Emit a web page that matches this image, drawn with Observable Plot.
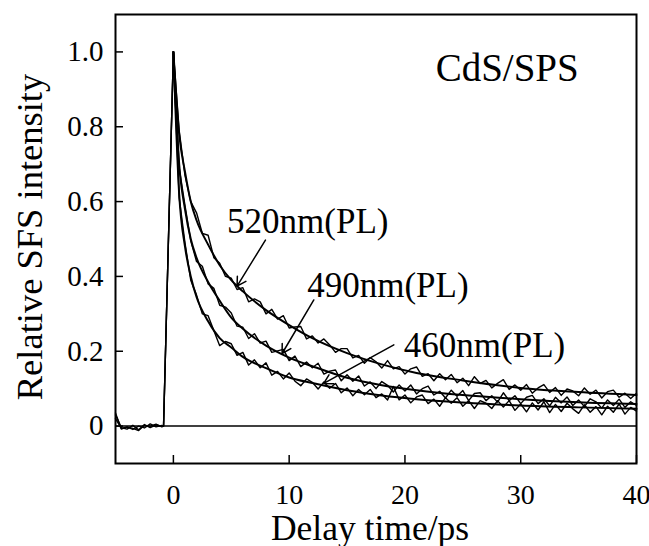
<!DOCTYPE html>
<html><head><meta charset="utf-8">
<script src="https://cdn.jsdelivr.net/npm/d3@7"></script>
<script src="https://cdn.jsdelivr.net/npm/@observablehq/plot@0.6"></script>
<style>html,body{margin:0;padding:0;background:#fff}</style>
</head><body><div id="chart"></div>
<script>
const seriesNames = ["520nm(PL)", "490nm(PL)", "460nm(PL)"];
const xTicks = [0, 10, 20, 30, 40];
const yTicks = [0, 0.2, 0.4, 0.6, 0.8, 1.0];
const yTickLabels = ["0", "0.2", "0.4", "0.6", "0.8", "1.0"];
const xTitle = "Delay time/ps";
const yTitle = "Relative SFS intensity";
const sampleTitle = "CdS/SPS";

// measured time axis (ps)
const time = [-5, -4.5, -4, -3.5, -3, -2.5, -2, -1.5, -1, -0.85,
  0, 0.5, 1, 1.5, 2, 2.5, 3, 3.5, 4, 4.5,
  5, 5.5, 6, 6.5, 7, 7.5, 8, 8.5, 9, 9.5,
  10, 10.5, 11, 11.5, 12, 12.5, 13, 13.5, 14, 14.5,
  15, 15.5, 16, 16.5, 17, 17.5, 18, 18.5, 19, 19.5,
  20, 20.5, 21, 21.5, 22, 22.5, 23, 23.5, 24, 24.5,
  25, 25.5, 26, 26.5, 27, 27.5, 28, 28.5, 29, 29.5,
  30, 30.5, 31, 31.5, 32, 32.5, 33, 33.5, 34, 34.5,
  35, 35.5, 36, 36.5, 37, 37.5, 38, 38.5, 39, 39.5, 40];

// measured (noisy) signals
const data520 = [0.03, -0.004, -0.008, 0.002, -0.01, 0.004, -0.004, 0.003, 0.0, 0.0,
  1.0, 0.79, 0.67, 0.60, 0.57, 0.515, 0.51, 0.45, 0.435, 0.40,
  0.395, 0.365, 0.37, 0.332, 0.34, 0.332, 0.30, 0.312, 0.286, 0.295,
  0.262, 0.265, 0.266, 0.233, 0.241, 0.222, 0.233, 0.217, 0.197, 0.207,
  0.207, 0.182, 0.189, 0.168, 0.183, 0.172, 0.155, 0.175, 0.153, 0.159,
  0.139, 0.153, 0.158, 0.133, 0.14, 0.121, 0.14, 0.124, 0.138, 0.116,
  0.128, 0.108, 0.132, 0.114, 0.122, 0.102, 0.114, 0.124, 0.098, 0.11,
  0.096, 0.111, 0.088, 0.102, 0.111, 0.09, 0.103, 0.082, 0.099, 0.094,
  0.081, 0.102, 0.085, 0.096, 0.075, 0.092, 0.096, 0.077, 0.088, 0.074, 0.088];
const data490 = [0.02, -0.006, -0.003, -0.009, 0.0, -0.005, 0.006, -0.002, 0.002, 0.0,
  1.0, 0.69, 0.59, 0.495, 0.44, 0.427, 0.38, 0.368, 0.323, 0.318,
  0.302, 0.267, 0.264, 0.234, 0.247, 0.222, 0.227, 0.197, 0.201, 0.205,
  0.175, 0.187, 0.159, 0.171, 0.156, 0.168, 0.139, 0.147, 0.15, 0.121,
  0.137, 0.12, 0.134, 0.107, 0.118, 0.1, 0.119, 0.109, 0.091, 0.11,
  0.094, 0.11, 0.086, 0.1, 0.107, 0.083, 0.093, 0.075, 0.096, 0.08,
  0.095, 0.068, 0.087, 0.089, 0.068, 0.081, 0.064, 0.089, 0.068, 0.081,
  0.06, 0.077, 0.082, 0.06, 0.073, 0.054, 0.077, 0.062, 0.078, 0.055,
  0.07, 0.052, 0.073, 0.065, 0.048, 0.07, 0.055, 0.072, 0.05, 0.065, 0.055];
const data460 = [0.035, -0.008, -0.002, -0.006, -0.012, 0.002, 0.0, 0.005, -0.002, 0.0,
  1.0, 0.61, 0.49, 0.39, 0.35, 0.30, 0.295, 0.255, 0.215, 0.226,
  0.22, 0.189, 0.197, 0.163, 0.177, 0.156, 0.169, 0.136, 0.146, 0.126,
  0.142, 0.12, 0.108, 0.126, 0.117, 0.099, 0.118, 0.101, 0.114, 0.089,
  0.102, 0.081, 0.098, 0.084, 0.098, 0.076, 0.086, 0.07, 0.106, 0.07,
  0.083, 0.062, 0.078, 0.083, 0.06, 0.072, 0.053, 0.076, 0.061, 0.076,
  0.053, 0.068, 0.047, 0.068, 0.061, 0.047, 0.068, 0.051, 0.068, 0.042,
  0.059, 0.038, 0.062, 0.043, 0.065, 0.036, 0.058, 0.039, 0.061, 0.046,
  0.034, 0.057, 0.037, 0.052, 0.03, 0.053, 0.037, 0.059, 0.032, 0.05, 0.04];

// fitted decay curves
const fitTime = [0, 0.5, 1, 1.5, 2, 3, 4, 5, 6, 8, 10, 12, 15, 18, 21, 25, 30, 35, 40];
const fit520 = [1.0, 0.78, 0.68, 0.60, 0.55, 0.485, 0.43, 0.39, 0.36, 0.31, 0.27, 0.235, 0.195, 0.165, 0.142, 0.122, 0.102, 0.091, 0.083];
const fit490 = [1.0, 0.70, 0.58, 0.50, 0.45, 0.385, 0.335, 0.29, 0.26, 0.215, 0.183, 0.16, 0.129, 0.109, 0.096, 0.083, 0.072, 0.064, 0.059];
const fit460 = [1.0, 0.62, 0.48, 0.40, 0.345, 0.28, 0.235, 0.21, 0.185, 0.155, 0.13, 0.115, 0.096, 0.082, 0.072, 0.063, 0.055, 0.05, 0.046];

// annotation labels and arrows (data coordinates)
const labelX = [4.64, 11.56, 19.9];
const labelY = [0.516, 0.345, 0.184];
const arrowFromX = [7.95, 12.13, 19.04];
const arrowFromY = [0.497, 0.337, 0.217];
const arrowToX = [5.5, 9.39, 12.99];
const arrowToY = [0.374, 0.194, 0.114];
const sampleX = 22.65, sampleY = 0.923;

const dataSets = [data520, data490, data460];
const fitSets = [fit520, fit490, fit460];
const rows = seriesNames.flatMap((s, k) => time.map((t, i) => ({t, v: dataSets[k][i], s})));
const fitRows = seriesNames.flatMap((s, k) => fitTime.map((t, i) => ({t, v: fitSets[k][i], s})));
const labels = seriesNames.map((s, k) => ({s, x: labelX[k], y: labelY[k]}));
const arrows = seriesNames.map((s, k) => ({x1: arrowFromX[k], y1: arrowFromY[k], x2: arrowToX[k], y2: arrowToY[k]}));

const font = "'Liberation Serif', 'Times New Roman', Times, serif";
const chart = Plot.plot({
  width: 649, height: 546,
  marginLeft: 115, marginRight: 13, marginTop: 14, marginBottom: 83,
  x: {domain: [-5, 40]},
  y: {domain: [-0.1, 1.1]},
  style: {fontFamily: font, background: "#fff", color: "#000", overflow: "visible"},
  marks: [
    Plot.ruleY([0], {strokeWidth: 1.5}),
    Plot.line(rows, {x: "t", y: "v", z: "s", stroke: "#000", strokeWidth: 1.4}),
    Plot.line(fitRows, {x: "t", y: "v", z: "s", stroke: "#000", strokeWidth: 2, curve: "monotone-x"}),
    Plot.arrow(arrows, {x1: "x1", y1: "y1", x2: "x2", y2: "y2", stroke: "#000", strokeWidth: 1.5, headLength: 10}),
    Plot.text(labels, {x: "x", y: "y", text: "s", textAnchor: "start", lineAnchor: "bottom", fontSize: 35, fill: "#000"}),
    Plot.text([sampleTitle], {x: sampleX, y: sampleY, text: d => d, textAnchor: "start", lineAnchor: "bottom", fontSize: 39, fill: "#000"}),
    Plot.axisX({ticks: xTicks, tickSize: -8, tickPadding: 29, fontSize: 28, label: null, strokeWidth: 1.5}),
    Plot.axisY({ticks: yTicks, tickFormat: d => yTickLabels[yTicks.indexOf(d)], tickSize: -8, tickPadding: 20, fontSize: 29, label: null, strokeWidth: 1.5}),
    Plot.frame({strokeWidth: 2}),
    Plot.text([xTitle], {text: d => d, frameAnchor: "bottom", textAnchor: "middle", dx: -6, dy: 76, lineAnchor: "bottom", fontSize: 35.5, fill: "#000"}),
    Plot.text([yTitle], {text: d => d, frameAnchor: "left", textAnchor: "middle", rotate: -90, dx: -74, dy: -2, lineAnchor: "bottom", fontSize: 36.5, fill: "#000"})
  ]
});
document.getElementById("chart").appendChild(chart);
</script>
</body></html>
